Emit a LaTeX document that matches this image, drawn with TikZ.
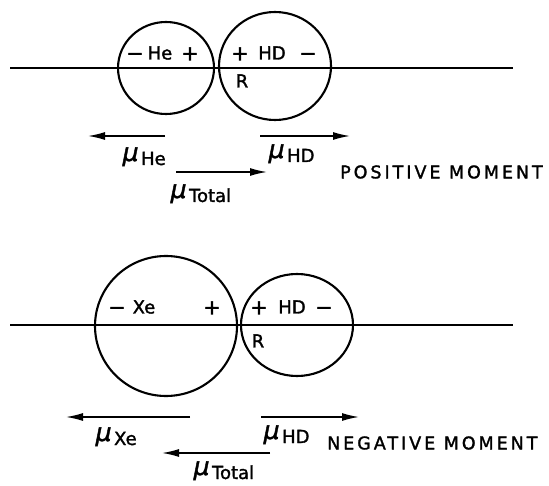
\documentclass[tikz,border=0pt]{standalone}
\usepackage{fontspec}
\setmainfont{DejaVu Sans}[FakeBold=1.6]
\newfontfamily\spacedfont{DejaVu Sans}[LetterSpace=17,FakeBold=1.6]
\newfontfamily\mufont{DejaVu Sans}[FakeSlant=0.2,FakeBold=1.5]
\usetikzlibrary{arrows.meta,shapes.geometric}
\tikzset{
  atom/.style={draw, ellipse, line width=2.1pt, inner sep=0pt},
  lbl/.style={inner sep=0pt, anchor=base, font=\fontsize{18}{19}\selectfont},
  sgn/.style={inner sep=0pt, anchor=base, font=\fontsize{21}{21}\selectfont},
  vec/.style={-{Latex[length=17pt,width=8pt]}, line width=1.5pt},
  axis/.style={line width=1.2pt},
  mom/.style={inner sep=0pt, font=\fontsize{17.5}{18}\spacedfont},
  mulbl/.style={inner sep=0pt, font=\fontsize{18}{19}\selectfont}
}
\newcommand{\muof}[1]{{\mufont\fontsize{25}{25}\selectfont μ}\kern4pt\raisebox{-4pt}{#1}}
\begin{document}
\begin{tikzpicture}[x=1pt,y=-1pt]
\useasboundingbox (0,0) rectangle (549,486);
% ---------- positive moment ----------
\coordinate (L1a) at (10,68);
\coordinate (L1b) at (513,68);
\draw[axis] (L1a) -- (L1b);
\node[atom, minimum width=96pt, minimum height=92pt] (He) at (166,68) {};
\node[atom, minimum width=112pt, minimum height=108pt] (HD1) at (275,66) {};
\node[sgn] (hem) at (135,60.5) {−};
\node[lbl] (het) at (160,59.5) {He};
\node[sgn] (hep) at (190,60.5) {+};
\node[sgn] (hdp1) at (240,60.5) {+};
\node[lbl] (hdt1) at (272,59.5) {HD};
\node[sgn] (hdm1) at (308,60.5) {−};
\node[lbl] (R1) at (242,87.5) {R};
\coordinate (aHe1) at (165,136);
\coordinate (aHe2) at (88,136);
\coordinate (aHD1) at (260,136);
\coordinate (aHD2) at (350,136);
\coordinate (aT1) at (176,172);
\coordinate (aT2) at (267,172);
\draw[vec] (aHe1) -- (aHe2);
\draw[vec] (aHD1) -- (aHD2);
\draw[vec] (aT1) -- (aT2);
\node[mulbl, anchor=base west] (muHe) at (121,161) {\muof{He}};
\node[mulbl, anchor=base west] (muHD1) at (267,158) {\muof{HD}};
\node[mulbl, anchor=base west] (muT1) at (169,198) {\muof{Total}};
\node[mom, anchor=west] (pos) at (340,172) {POSITIVE MOMENT};
% ---------- negative moment ----------
\coordinate (L2a) at (10,325);
\coordinate (L2b) at (513,325);
\draw[axis] (L2a) -- (L2b);
\node[atom, minimum width=142pt, minimum height=140pt] (Xe) at (166,326) {};
\node[atom, minimum width=112pt, minimum height=102pt] (HD2) at (297,325) {};
\node[sgn] (xem) at (117,314.5) {−};
\node[lbl] (xet) at (144,313.5) {Xe};
\node[sgn] (xep) at (212,314.5) {+};
\node[sgn] (hdp2) at (259,314.5) {+};
\node[lbl] (hdt2) at (292,313.5) {HD};
\node[sgn] (hdm2) at (324,314.5) {−};
\node[lbl] (R2) at (258,347.5) {R};
\coordinate (aXe1) at (190,417);
\coordinate (aXe2) at (66,417);
\coordinate (bHD1) at (261,417);
\coordinate (bHD2) at (359,417);
\coordinate (bT1) at (270,453);
\coordinate (bT2) at (162,453);
\draw[vec] (aXe1) -- (aXe2);
\draw[vec] (bHD1) -- (bHD2);
\draw[vec] (bT1) -- (bT2);
\node[mulbl, anchor=base west] (muXe) at (94,441) {\muof{Xe}};
\node[mulbl, anchor=base west] (muHD2) at (262,439) {\muof{HD}};
\node[mulbl, anchor=base west] (muT2) at (192,475) {\muof{Total}};
\node[mom, anchor=west] (neg) at (327,443) {NEGATIVE MOMENT};
\end{tikzpicture}
\end{document}
